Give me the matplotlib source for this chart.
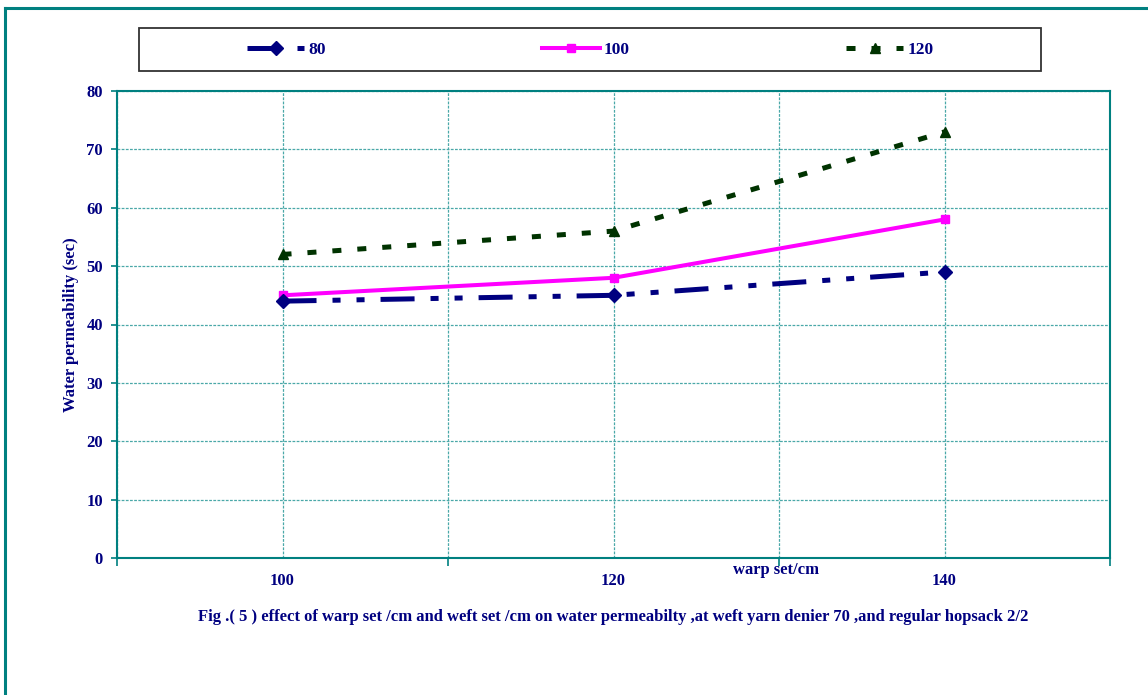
import matplotlib
matplotlib.use("Agg")
import matplotlib.pyplot as plt
from matplotlib.lines import Line2D
from matplotlib.patches import Rectangle

# Data
categories = ["100", "120", "140"]
series_names = ["80", "100", "120"]
values_80 = [44, 45, 49]
values_100 = [45, 48, 58]
values_120 = [52, 56, 73]
y_ticks = [0, 10, 20, 30, 40, 50, 60, 70, 80]

TEXT = "#000080"
TEAL = "#008080"
GRID = "#4aa8a8"

plt.rcParams["font.family"] = ["Liberation Serif", "DejaVu Serif"]
plt.rcParams["font.weight"] = "bold"
plt.rcParams["lines.scale_dashes"] = False

W, H = 1148, 695
fig = plt.figure(figsize=(W / 100, H / 100), dpi=100)

def fx(px):
    return px / W

def fy(py):
    return 1 - py / H

ax = fig.add_axes([fx(117), fy(558), fx(1110) - fx(117), fy(91) - fy(558)])

x = list(range(len(categories)))

ax.plot(x, values_80, color="#000080", lw=3.6,
        linestyle=(0, (24.5, 11.5, 5.8, 11.5, 5.8, 11.5)),
        marker="D", markersize=7.5, markeredgecolor="#000080",
        markerfacecolor="#000080", label=series_names[0], zorder=4)
ax.plot(x, values_100, color="#FF00FF", lw=2.9, linestyle="-",
        marker="s", markersize=6, markeredgecolor="#FF00FF",
        markerfacecolor="#FF00FF", label=series_names[1], zorder=3)
ax.plot(x, values_120, color="#003300", lw=3.6,
        linestyle=(0, (6.5, 11.5)),
        marker="^", markersize=7.5, markeredgecolor="#003300",
        markerfacecolor="#003300", label=series_names[2], zorder=3)

ax.set_xlim(-0.5, len(categories) - 0.5)
ax.set_ylim(0, 80)

# category boundaries as major ticks, category centres as labelled minor ticks
ax.set_xticks([i - 0.5 for i in range(len(categories) + 1)])
ax.set_xticklabels([])
ax.set_xticks(x, minor=True)
ax.set_xticklabels(categories, minor=True)
ax.tick_params(axis="x", which="major", direction="out", length=6,
               width=1.2, color=TEAL)
ax.tick_params(axis="x", which="minor", length=0, pad=11,
               labelsize=12, labelcolor=TEXT)

ax.set_yticks(y_ticks)
ax.tick_params(axis="y", direction="out", length=4, width=1.2, color=TEAL,
               labelsize=12, labelcolor=TEXT, pad=6)
for lab in ax.get_xticklabels(minor=True) + ax.get_yticklabels():
    lab.set_fontweight("bold")

ax.grid(axis="x", which="both", color=GRID, lw=0.9, linestyle=(0, (2, 1)))
ax.grid(axis="y", which="major", color=GRID, lw=0.9, linestyle=(0, (2, 1)))
ax.set_axisbelow(True)

for sp in ax.spines.values():
    sp.set_color(TEAL)
    sp.set_linewidth(1.5)

ax.set_ylabel("Water permeability (sec)", fontsize=12, fontweight="bold",
              color=TEXT, labelpad=5.5)

fig.text(fx(776), fy(570), "warp set/cm", ha="center", va="center",
         fontsize=12, fontweight="bold", color=TEXT)
fig.text(fx(613), fy(617),
         "Fig .( 5 ) effect of warp set /cm and weft set /cm on water "
         "permeabilty ,at weft yarn denier 70 ,and regular hopsack 2/2",
         ha="center", va="center", fontsize=12, fontweight="bold", color=TEXT)

# legend box
fig.patches.append(Rectangle((fx(139), fy(71)), fx(1041) - fx(139),
                             fy(28) - fy(71), transform=fig.transFigure,
                             fill=False, edgecolor="#333333", lw=1.3))
leg = fig.legend(loc="center left", bbox_to_anchor=(fx(247), fy(49.5)),
                 ncol=3, frameon=False, handlelength=3.3, handletextpad=0.25,
                 columnspacing=12.45, borderpad=0, borderaxespad=0,
                 prop={"family": ["Liberation Serif"], "weight": "bold",
                       "size": 12.5})
for t in leg.get_texts():
    t.set_color(TEXT)

# outer frame on top and left
fig.add_artist(Line2D([fx(5), 1], [fy(8), fy(8)], transform=fig.transFigure,
                      color=TEAL, lw=2.2))
fig.add_artist(Line2D([fx(5), fx(5)], [fy(8), 0], transform=fig.transFigure,
                      color=TEAL, lw=2.2))

fig.savefig("out.png", dpi=100)
